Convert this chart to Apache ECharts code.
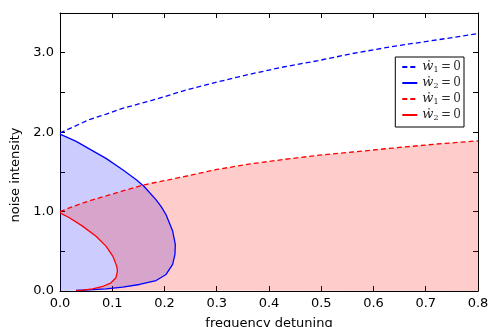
<!DOCTYPE html>
<html>
<head>
<meta charset="utf-8">
<script src="https://cdn.jsdelivr.net/npm/echarts@6/dist/echarts.min.js"></script>
<style>
html, body { margin: 0; padding: 0; background: #fff; }
#chart { width: 489px; height: 327px; }
</style>
</head>
<body>
<div id="chart"></div>
<script>
// blue dashed: w1' = 0
var blueDashX = [0, 0.03, 0.056, 0.09, 0.12, 0.184, 0.236, 0.30, 0.364, 0.427, 0.494, 0.56, 0.638, 0.72, 0.80];
var blueDashY = [1.99, 2.08, 2.157, 2.23, 2.30, 2.415, 2.52, 2.63, 2.73, 2.82, 2.90, 2.99, 3.08, 3.16, 3.24];
// blue solid: w2' = 0
var blueSolidX = [0, 0.031, 0.056, 0.088, 0.12, 0.146, 0.161, 0.184, 0.194, 0.203, 0.2156, 0.2207, 0.220, 0.2156, 0.203, 0.184, 0.152, 0.12, 0.088, 0.056, 0.031];
var blueSolidY = [1.976, 1.883, 1.79, 1.67, 1.526, 1.40, 1.315, 1.148, 1.06, 0.96, 0.755, 0.586, 0.46, 0.334, 0.208, 0.132, 0.082, 0.048, 0.028, 0.015, 0.006];
// red dashed: w1' = 0
var redDashX = [0, 0.03, 0.056, 0.09, 0.12, 0.161, 0.2335, 0.30, 0.364, 0.427, 0.49, 0.56, 0.638, 0.72, 0.80];
var redDashY = [1.0, 1.075, 1.135, 1.20, 1.26, 1.337, 1.435, 1.53, 1.60, 1.655, 1.705, 1.75, 1.80, 1.85, 1.89];
// red solid: w2' = 0
var redSolidX = [0, 0.018, 0.043, 0.069, 0.088, 0.101, 0.1085, 0.110, 0.107, 0.0976, 0.0817, 0.0626, 0.0434, 0.031];
var redSolidY = [0.984, 0.922, 0.817, 0.69, 0.565, 0.44, 0.313, 0.25, 0.166, 0.103, 0.057, 0.028, 0.01, 0.006];

var xTicks = [0, 0.8, 0.1];
var yTicks = [0, 3.5, 0.5];

function zip(xs, ys) {
	return xs.map(function (x, i) { return [x, ys[i]]; });
}

var blueDash = zip(blueDashX, blueDashY);
var blueSolid = zip(blueSolidX, blueSolidY);
var redDash = zip(redDashX, redDashY);
var redSolid = zip(redSolidX, redSolidY);

// fill regions
var blueFill = blueSolid.concat([[0, 0]]);
var redFill = redDash.concat([[0.8, 0]]).concat(redSolid.slice().reverse());

var legendLabel = {
	b1: "{w|ẇ}{s|1}{e|\u2009=\u20090}",
	b2: "{w|ẇ}{s|2}{e|\u2009=\u20090}",
	r1: "{w|ẇ}{s|1}{e|\u2009=\u20090}",
	r2: "{w|ẇ}{s|2}{e|\u2009=\u20090}",
};

function fillSeries(pts, color) {
	return {
		type: "custom",
		silent: true,
		clip: true,
		z: 1,
		data: [[0, 0]],
		renderItem: function (params, api) {
			return {
				type: "polygon",
				shape: { points: pts.map(function (p) { return api.coord(p); }) },
				style: { fill: color },
			};
		},
	};
}

function lineSeries(name, pts, color, dashed) {
	return {
		name: name,
		type: "line",
		data: pts,
		z: 3,
		showSymbol: false,
		symbol: "none",
		clip: true,
		lineStyle: { color: color, width: 1.3, type: dashed ? [5, 3] : "solid" },
		itemStyle: { color: color },
	};
}

function axisStyle() {
	return {
		axisLine: { show: true, onZero: false, lineStyle: { color: "#000", width: 1 } },
		axisTick: { show: true, inside: true, length: 5, lineStyle: { color: "#000" } },
		splitLine: { show: false },
	};
}

var chart = echarts.init(document.getElementById("chart"));
chart.setOption({
	animation: false,
	grid: { left: 60, right: 11, top: 13, bottom: 36, containLabel: false, outerBoundsMode: "none" },
	legend: {
		data: ["b1", "b2", "r1", "r2"],
		orient: "vertical",
		right: 25,
		top: 57,
		itemWidth: 15,
		itemHeight: 0.2,
		itemGap: 2,
		padding: [3, 3, 5, 6],
		borderColor: "#000",
		borderWidth: 1,
		borderRadius: 0,
		backgroundColor: "#fff",
		itemStyle: { color: "rgba(0,0,0,0)", borderWidth: 0 },
		formatter: function (name) { return legendLabel[name]; },
		textStyle: {
			color: "#222",
			lineHeight: 14,
			rich: {
				w: { fontFamily: "DejaVu Serif", fontStyle: "italic", fontSize: 13, lineHeight: 14 },
				s: { fontFamily: "DejaVu Serif", fontSize: 8, padding: [6, 0, 0, 0], lineHeight: 14 },
				e: { fontFamily: "DejaVu Serif", fontSize: 12, color: "#333", lineHeight: 14 },
			},
		},
	},
	xAxis: [
		Object.assign({
			type: "value",
			min: xTicks[0], max: xTicks[1], interval: xTicks[2],
			position: "bottom",
			name: "frequency detuning",
			nameLocation: "middle",
			nameGap: 26,
			nameTextStyle: { fontFamily: "DejaVu Sans", fontSize: 13, color: "#000" },
			axisLabel: {
				fontFamily: "DejaVu Sans", fontSize: 13, color: "#000", margin: 6,
				formatter: function (v) { return v.toFixed(1); },
			},
		}, axisStyle()),
		Object.assign({
			type: "value",
			min: xTicks[0], max: xTicks[1], interval: xTicks[2],
			position: "top",
			axisLabel: { show: false },
		}, axisStyle()),
	],
	yAxis: [
		Object.assign({
			type: "value",
			min: yTicks[0], max: yTicks[1], interval: yTicks[2],
			position: "left",
			name: "noise intensity",
			nameLocation: "middle",
			nameGap: 30,
			nameTextStyle: { fontFamily: "DejaVu Sans", fontSize: 13, color: "#000", padding: [0, 46, 0, 0] },
			axisLabel: {
				fontFamily: "DejaVu Sans", fontSize: 13, color: "#000", margin: 6,
				formatter: function (v) { return Math.abs(v % 1) < 1e-9 ? v.toFixed(1) : ""; },
			},
		}, axisStyle()),
		Object.assign({
			type: "value",
			min: yTicks[0], max: yTicks[1], interval: yTicks[2],
			position: "right",
			axisLabel: { show: false },
		}, axisStyle()),
	],
	series: [
		fillSeries(blueFill, "rgba(0,0,255,0.2)"),
		fillSeries(redFill, "rgba(255,0,0,0.2)"),
		lineSeries("b1", blueDash, "#0000ff", true),
		lineSeries("b2", blueSolid, "#0000ff", false),
		lineSeries("r1", redDash, "#ff0000", true),
		lineSeries("r2", redSolid, "#ff0000", false),
	],
});
</script>
</body>
</html>
